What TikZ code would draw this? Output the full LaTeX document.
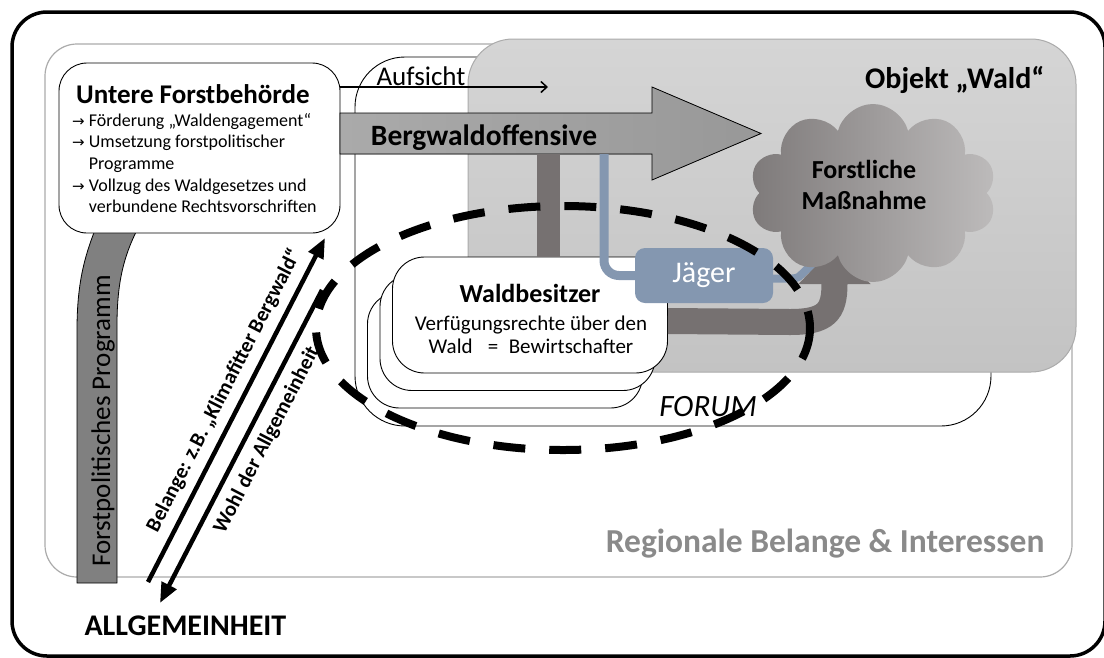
\documentclass[tikz,border=0pt]{standalone}
\usepackage{fontspec}
\setmainfont{Carlito}
\newfontfamily\arrowfont{DejaVu Sans}
\usepackage{tikz}
\usetikzlibrary{arrows.meta,positioning,shapes.symbols}
\definecolor{regiongray}{HTML}{ABABAB}
\definecolor{objekttop}{HTML}{D5D5D5}
\definecolor{objektbottom}{HTML}{C3C3C3}
\definecolor{programmgray}{HTML}{808080}
\definecolor{offensiveleft}{HTML}{AAAAAA}
\definecolor{offensiveright}{HTML}{989898}
\definecolor{besitzergray}{HTML}{767171}
\definecolor{jaegerblue}{HTML}{8497B0}
\definecolor{cloudleft}{HTML}{7E7A7A}
\definecolor{cloudright}{HTML}{BDBBBB}
\definecolor{labelgray}{HTML}{8A8A8A}
\newcommand{\pfeil}{{\arrowfont\fontsize{15}{15}\selectfont →}}

\begin{document}
\begin{tikzpicture}[x=1pt,y=-1pt]
	\tikzstyle{frame} = [rounded corners=35, line width=3.5]
	\tikzstyle{region} = [rounded corners=32, draw=regiongray, line width=1.2, fill=white]
	\tikzstyle{forumbox} = [rounded corners=50, draw=black, line width=0.9, fill=white]
	\tikzstyle{objektbox} = [rounded corners=45, draw=regiongray, line width=1, top color=objekttop, bottom color=objektbottom]
	\tikzstyle{behoerde} = [rectangle, rounded corners=28, draw=black, fill=white, line width=0.9]
	\tikzstyle{waldbox} = [rectangle, rounded corners=32, draw=black, fill=white, line width=0.9, minimum width=275, minimum height=116]
	\tikzstyle{programm} = [fill=programmgray, draw=black, line width=0.8]
	\tikzstyle{offensive} = [left color=offensiveleft, right color=offensiveright, draw=black, line width=0.8]
	\tikzstyle{jaegerbox} = [rectangle, rounded corners=10, fill=jaegerblue, text=white, minimum width=138, minimum height=55, font=\fontsize{30}{30}\selectfont]
	\tikzstyle{blueline} = [line width=9, draw=jaegerblue, rounded corners=15]
	\tikzstyle{massnahmecloud} = [cloud, cloud puffs=10, aspect=1.39, minimum width=247, minimum height=178, left color=cloudleft, right color=cloudright, draw=none]
	\tikzstyle{arrow} = [line width=4.5, -{Triangle[length=20pt,width=16pt]}]
	\tikzstyle{thinarrow} = [line width=1.5, -{Straight Barb[length=6pt,width=11pt]}]
	\tikzstyle{dashring} = [line width=8, dash pattern=on 32pt off 24pt]
	\tikzstyle{slanted} = [font=\fontsize{21}{21}\bfseries]
	\useasboundingbox (0,0) rectangle (1104,657);
	\clip (0,0) rectangle (1104,657);
	\draw [frame] (12,12) rectangle (1105,656);
	\draw [region] (45,44) rectangle (1072,577);
	\draw [forumbox] (355,57) rectangle (991,426);
	\draw [objektbox] (468,39) rectangle (1076,372);
	\filldraw [programm] (77,583) -- (77,330) .. controls (77,285) and (84,258) .. (95,230)
		-- (137,230) .. controls (124,256) and (117,282) .. (117,325) -- (117,583) -- cycle;
	\node (programmText) [rotate=90, anchor=base, font=\fontsize{27}{27}\selectfont] at (110,421) {Forstpolitisches Programm};
	\node (untere) [behoerde, minimum width=281, minimum height=170] at (199.5,148) {};
	\node (untereTitle) [anchor=base, font=\fontsize{27}{27}\bfseries] at (193,103) {Untere Forstbehörde};
	\node (untereList) [anchor=north west, align=left, inner sep=0, font=\fontsize{18}{21.7}\selectfont] at (72,113)
		{\pfeil\ Förderung „Waldengagement“\\
		\pfeil\ Umsetzung forstpolitischer\\
		\phantom{\pfeil\ }Programme\\
		\pfeil\ Vollzug des Waldgesetzes und\\
		\phantom{\pfeil\ }verbundene Rechtsvorschriften};
	\coordinate (aufsichtEnd) at (548,87);
	\draw [thinarrow] (untere.east |- aufsichtEnd) -- (aufsichtEnd);
	\node (aufsicht) [anchor=base, font=\fontsize{27}{27}\selectfont] at (421,85) {Aufsicht};
	\filldraw [offensive] (340,113) -- (652,113) -- (652,87) -- (761,133.5) -- (652,180) -- (652,154) -- (340,154) -- cycle;
	\node (offensive) [anchor=base, font=\fontsize{29.5}{29.5}\bfseries] at (484,145) {Bergwaldoffensive};
	\node (waldBack) [waldbox] at (505,350) {};
	\node (waldMid) [waldbox] at ([xshift=12.5pt,yshift=17.5pt]waldBack.center) {};
	\node (waldFront) [waldbox] at ([xshift=12.5pt,yshift=17.5pt]waldMid.center) {};
	\coordinate (barTop) at (548.5,154);
	\draw [line width=23, draw=besitzergray] (barTop) -- (barTop |- waldFront.north);
	\node (waldTitle) [anchor=base, font=\fontsize{26}{26}\bfseries] at (530,302) {Waldbesitzer};
	\node (waldLine1) [anchor=base, font=\fontsize{21}{21}\selectfont] at (531,330) {Verfügungsrechte über den};
	\node (waldLine2) [anchor=base, font=\fontsize{21}{21}\selectfont] at (531,353) {Wald \enspace=\enspace Bewirtschafter};
	\node (jaeger) [jaegerbox] at (704,275.5) {Jäger};
	\coordinate (blueStart) at (604,154);
	\draw [blueline] (blueStart) -- (blueStart |- jaeger.west) -- (jaeger.west);
	\draw [line width=8, draw=jaegerblue, -{Stealth[length=26pt,width=14pt]}] ([yshift=-3pt]jaeger.east) -- (792,278.5)
		.. controls (804,278.5) and (802,268) .. (812,268) -- (834,268);
	\draw [line width=26, draw=besitzergray, -{Triangle[length=37pt,width=70pt]}] ([yshift=-6pt]waldFront.east) -- (790,322)
		.. controls (826,322) and (834.5,312) .. (834.5,284) -- (834.5,247);
	\node (massnahme) [massnahmecloud] at (873,193) {};
	\node (massnahmeText) [align=center, font=\fontsize{26}{31}\bfseries] at (864,185) {Forstliche\\Maßnahme};
	\node (objekt) [anchor=base east, font=\fontsize{30}{30}\bfseries] at (1048,88) {Objekt „Wald“};
	\node (forum) [anchor=base, font=\fontsize{31}{31}\itshape] at (708,416) {FORUM};
	\node (regional) [anchor=base east, text=labelgray, font=\fontsize{33.5}{33.5}\bfseries] at (1048,552) {Regionale Belange \& Interessen};
	\node (allgemeinheit) [anchor=base west, font=\fontsize{30}{30}\bfseries] at (81,635) {ALLGEMEINHEIT};
	\coordinate (belangeStart) at (148,582);
	\coordinate (belangeEnd) at (325,238);
	\coordinate (wohlStart) at (322,290);
	\coordinate (wohlEnd) at (160,603);
	\draw [arrow] (belangeStart) -- (belangeEnd);
	\draw [arrow] (wohlStart) -- (wohlEnd);
	\node (belange) [slanted, rotate=62.8] at (224,390.5) {Belange: z.B. „Klimafitter Bergwald“};
	\node (wohl) [slanted, rotate=62.6] at (267,440) {Wohl der Allgemeinheit};
	\draw [dashring] (563,328) ellipse [x radius=247, y radius=122];
\end{tikzpicture}
\end{document}
